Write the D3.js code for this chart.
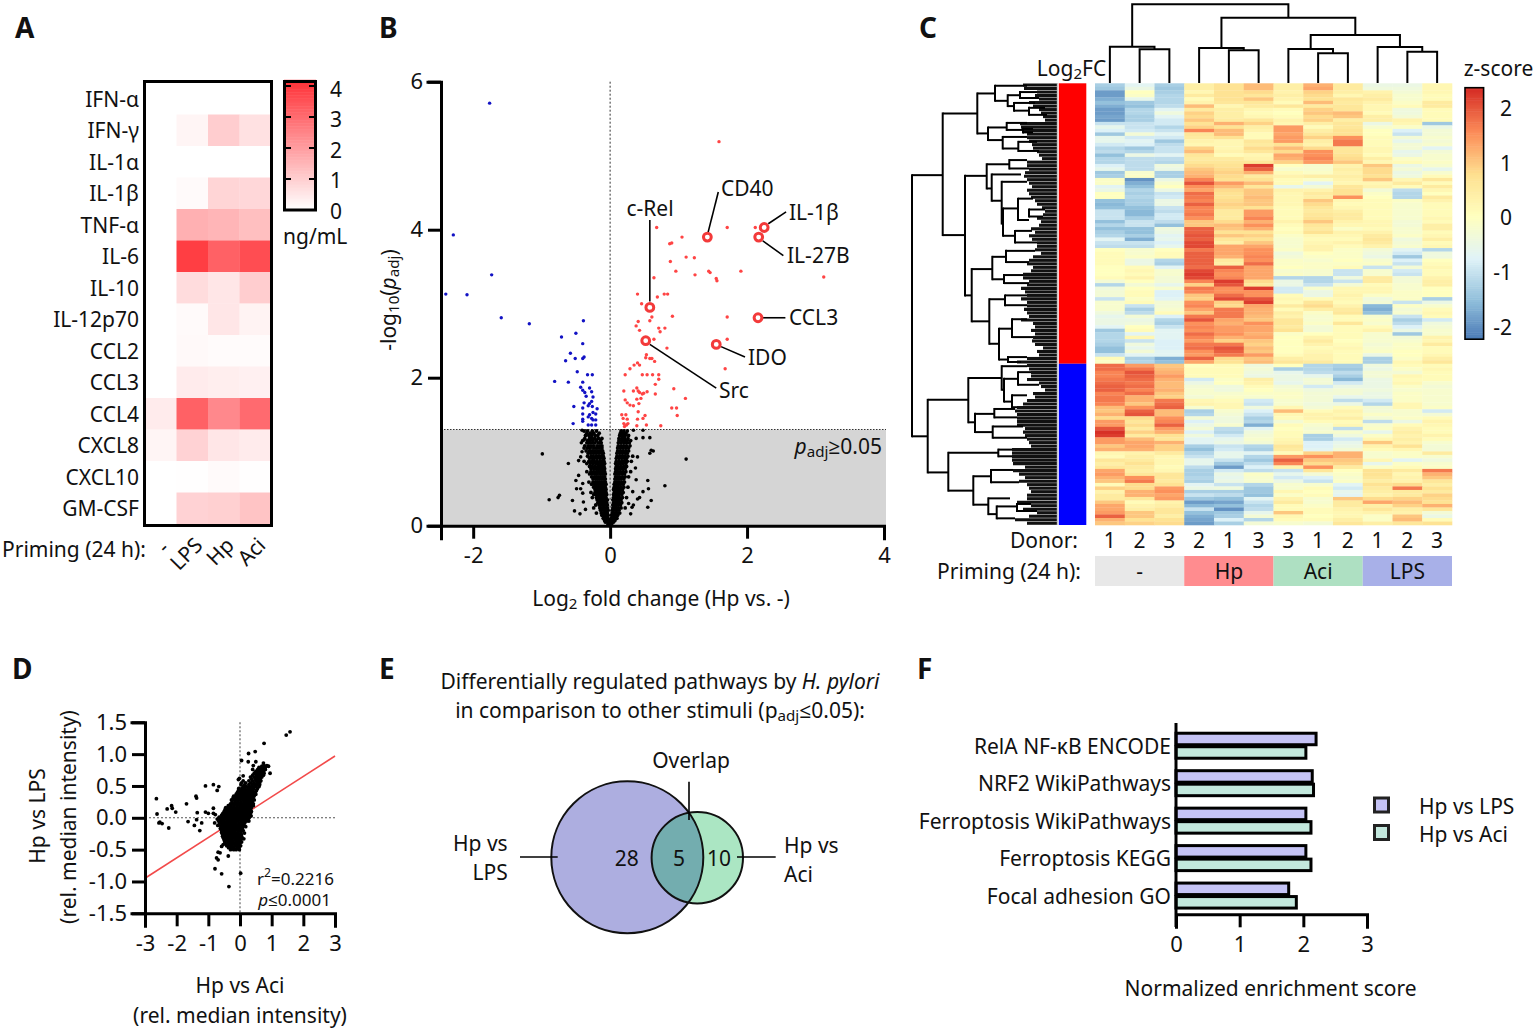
<!DOCTYPE html>
<html><head><meta charset="utf-8">
<script src="https://cdn.jsdelivr.net/npm/d3@7"></script>
<style>
html,body{margin:0;padding:0;background:#fff}
svg{display:block}
text{font-family:"Noto Sans","Open Sans",sans-serif;fill:#111}
</style></head><body><svg id="c" width="1535" height="1032"></svg>
<script>
// ---------- Panel A
const cytokines=["IFN-α","IFN-γ","IL-1α","IL-1β","TNF-α","IL-6","IL-10","IL-12p70","CCL2","CCL3","CCL4","CXCL8","CXCL10","GM-CSF"];
const primingA=["-","LPS","Hp","Aci"];
const cytokineValues=[[0,0,0,0],[0,.2,1.0,.6],[0,0,0,0],[0,.1,.85,.8],[0,1.6,1.5,1.3],[0,3.9,3.2,3.6],[0,.7,.5,1.0],[0,.1,.5,.25],[0,.12,.08,.08],[0,.4,.35,.3],[.4,3.2,2.4,3.0],[.2,.9,.5,.4],[0,.02,.1,.02],[0,.9,.95,1.2]];
// ---------- Panel B
const volcanoBlue=[[-1.76,5.71],[-2.29,3.93],[-1.73,3.39],[-2.40,3.13],[-2.09,3.12],[-1.59,2.81],[-1.18,2.73],[-.39,2.77],[-.71,2.55],[-.50,2.60],[-.40,2.46],[-.58,2.33],[-.51,2.26],[-.65,2.23],[-.38,2.28],[-.40,2.26],[-.48,2.08],[-.33,2.04],[-.26,2.04],[-.81,1.95],[-.61,1.94],[-.40,1.94],[-.43,1.87],[-.30,1.86],[-.40,1.83],[-.27,1.81],[-.37,1.80],[-.25,1.74],[-.35,1.75],[-.38,1.66],[-.30,1.65],[-.27,1.68],[-.32,1.62],[-.53,1.61],[-.40,1.59],[-.26,1.61],[-.19,1.58],[-.40,1.51],[-.25,1.53],[-.30,1.50],[-.21,1.51],[-.27,1.45],[-.32,1.47],[-.40,1.44],[-.25,1.43],[-.54,1.38],[-.40,1.41],[-.32,1.36],[-.27,1.36],[-.21,1.36],[-.21,1.43]];
const volcanoRed=[[1.59,5.19],[.68,4.03],[1.71,4.03],[2.12,4.03],[1.05,3.90],[.90,3.82],[.87,3.81],[1.11,3.63],[1.23,3.62],[.88,3.57],[.96,3.44],[1.44,3.44],[1.46,3.42],[1.91,3.44],[1.24,3.39],[3.12,3.36],[.64,3.35],[1.55,3.34],[1.56,3.31],[.40,3.13],[.79,3.13],[.84,3.13],[.69,3.09],[.46,3.00],[.61,2.82],[.58,2.77],[.91,2.83],[1.71,2.82],[.41,2.76],[.38,2.70],[.43,2.64],[.71,2.67],[.73,2.62],[.80,2.67],[.64,2.52],[1.71,2.52],[.83,2.40],[.53,2.31],[.58,2.26],[.52,2.27],[.61,2.26],[.65,2.22],[.40,2.20],[.35,2.17],[.43,2.17],[.29,2.12],[1.68,2.12],[.22,2.04],[.47,2.04],[.54,2.04],[.62,2.04],[.71,2.04],[.71,1.98],[.66,1.91],[.39,1.86],[.93,1.85],[.20,1.82],[.34,1.82],[.41,1.82],[.43,1.80],[.47,1.78],[.54,1.81],[.49,1.79],[.66,1.78],[1.10,1.72],[.22,1.70],[.25,1.66],[.39,1.71],[.45,1.72],[.29,1.63],[.34,1.62],[.42,1.65],[.90,1.59],[.97,1.59],[.41,1.54],[.98,1.49],[.51,1.49],[.48,1.45],[.40,1.44],[.17,1.50],[.23,1.50],[.19,1.45],[.25,1.44],[.53,1.36],[.74,1.35],[.39,1.35],[.20,1.38],[.24,1.36],[.21,1.34],[.26,1.38]];
const volcanoOutliers=[[-.99,.97],[-.61,.84],[1.11,.90],[.80,.54],[-.89,.35],[-.76,.38],[-.74,.41],[-.55,.34],[-.52,.20],[-.44,.16],[.55,.61],[.56,.50],[.55,.25],[.60,.34],[.43,.38],[.40,.36],[.34,.28],[.32,.25],[.48,.46],[.58,1.19],[.48,1.19],[.38,1.18],[.60,1.02],[.58,.98],[.63,1.01],[.48,1.29],[.34,1.29],[-.41,1.29],[-.46,.68],[-.50,.61],[-.40,.57],[-.43,.50],[-.49,.50],[-.40,.44],[-.43,.93],[-.46,.88],[-.41,1.0],[-.38,1.16],[-.42,1.12],[-.39,.32],[-.36,.22],[.30,.16],[.27,.30],[.33,.46],[.38,.62],[.37,.78],[.40,.93]];
const volcanoCloudLeft=[[1.28,-.38,-.33,-.26,-.20],[1.22,-.36,-.31,-.27,-.22,-.18],[1.15,-.40,-.33,-.29,-.25,-.20,-.14],[1.08,-.37,-.32,-.28,-.24,-.19,-.15,-.12],[1.01,-.35,-.30,-.26,-.22,-.18,-.14,-.11],[.94,-.33,-.28,-.25,-.21,-.17,-.13,-.10],[.87,-.38,-.31,-.27,-.23,-.19,-.15,-.12,-.09],[.80,-.30,-.26,-.22,-.18,-.15,-.12,-.09],[.73,-.34,-.28,-.24,-.20,-.17,-.14,-.11,-.08],[.66,-.27,-.23,-.20,-.17,-.14,-.11,-.08],[.59,-.31,-.25,-.22,-.19,-.16,-.13,-.10,-.07],[.52,-.24,-.21,-.18,-.15,-.12,-.09,-.07],[.45,-.28,-.22,-.19,-.16,-.13,-.10,-.08,-.06],[.38,-.26,-.20,-.17,-.14,-.12,-.09,-.06],[.31,-.18,-.15,-.12,-.10,-.07,-.05],[.24,-.24,-.15,-.13,-.10,-.08,-.05,-.04],[.17,-.20,-.13,-.10,-.08,-.06,-.04],[.10,-.10,-.07,-.05,-.03],[.05,-.07,-.04,-.02],[.02,-.03,-.01]];
const volcanoCloudLeftFill=[[1.25,-.34,-.29,-.24,-.16],[1.18,-.37,-.30,-.26,-.22,-.17,-.12],[1.12,-.34,-.30,-.26,-.22,-.17,-.13],[1.05,-.38,-.33,-.29,-.24,-.20,-.16,-.12],[.98,-.32,-.28,-.24,-.20,-.16,-.12,-.10],[.91,-.30,-.26,-.23,-.19,-.15,-.11,-.09],[.84,-.34,-.29,-.25,-.21,-.17,-.13,-.10,-.08],[.77,-.28,-.24,-.20,-.17,-.13,-.10,-.08],[.70,-.30,-.26,-.22,-.19,-.15,-.12,-.09,-.07],[.63,-.25,-.21,-.18,-.15,-.12,-.09,-.07],[.56,-.27,-.23,-.20,-.17,-.14,-.11,-.08,-.06],[.49,-.22,-.19,-.17,-.14,-.11,-.08,-.06],[.42,-.24,-.20,-.18,-.15,-.12,-.09,-.07,-.05],[.35,-.19,-.16,-.13,-.11,-.08,-.06,-.04],[.28,-.21,-.16,-.14,-.11,-.09,-.06,-.04],[.21,-.14,-.12,-.09,-.07,-.05,-.03],[.14,-.12,-.09,-.07,-.05,-.03],[.07,-.08,-.06,-.04,-.02]];
const volcanoCloudRight=[[1.28,.16,.20,.25],[1.22,.14,.18,.22,.27],[1.15,.13,.17,.21,.25,.30],[1.08,.12,.16,.20,.24,.29],[1.01,.11,.15,.19,.23,.27],[.94,.10,.14,.18,.22,.26,.33],[.87,.09,.13,.17,.21,.25,.31],[.80,.09,.12,.16,.20,.24],[.73,.08,.11,.15,.19,.23,.30],[.66,.08,.11,.14,.18,.22,.27],[.59,.07,.10,.13,.17,.21],[.52,.06,.09,.12,.16,.20,.26],[.45,.06,.09,.12,.15,.19],[.38,.05,.08,.11,.14,.18,.24],[.31,.05,.08,.10,.13,.17],[.24,.04,.07,.09,.12,.16,.22],[.17,.03,.05,.08,.11,.14],[.10,.02,.04,.07,.10],[.05,.01,.03,.05],[.02,.01,.02]];
const volcanoCloudRightFill=[[1.25,.15,.19,.23],[1.18,.13,.17,.21,.26],[1.12,.12,.16,.20,.24,.28],[1.05,.11,.15,.19,.23,.27],[.98,.10,.14,.18,.22,.25],[.91,.09,.13,.17,.21,.24],[.84,.08,.12,.15,.19,.23],[.77,.08,.11,.14,.18,.22],[.70,.07,.10,.13,.17,.21],[.63,.07,.10,.13,.16,.20],[.56,.06,.09,.12,.15,.19],[.49,.05,.08,.11,.14,.18],[.42,.05,.08,.10,.13,.17],[.35,.04,.07,.10,.13,.16],[.28,.04,.06,.09,.12,.15],[.21,.03,.05,.08,.10,.13],[.14,.02,.04,.06,.09,.11],[.07,.01,.03,.05,.07]];
const volcanoGenes=[["CD40",1.42,3.90],["IL-1β",2.25,4.03],["IL-27B",2.17,3.90],["CCL3",2.16,2.81],["IDO",1.55,2.45],["c-Rel",.58,2.95],["Src",.52,2.50]];
const volcanoLeaders=[[1.43,3.96,1.58,4.51],[2.31,4.08,2.57,4.24],[2.23,3.85,2.53,3.65],[2.23,2.81,2.56,2.81],[1.62,2.42,1.97,2.28],[.58,3.03,.58,4.13],[.58,2.45,1.55,1.86]];
// ---------- Panel C
const donorLabels=["1","2","3","2","1","3","3","1","2","1","2","3"];
const groupLabels=["-","Hp","Aci","LPS"];
const zScores=[
[-1.3,-.7,-1.3,.4,.7,1.1,.4,1.2,.5,-.5,-.5,.2],[-1.4,-.5,-1.4,.4,.7,1.1,.4,1.3,.5,-.4,-.4,.2],[-1.9,0,-1.3,.2,.7,.8,.3,.9,.4,.3,-.3,.2],[-1.9,-.1,-1.2,.5,.7,.6,.4,.8,.2,.4,-.2,.1],[-1.7,-.6,-1.2,.1,.7,1,.3,.7,.6,.5,-.2,.1],[-1.5,-1.4,-1.2,.3,.6,.6,.1,1.1,.5,.3,-.1,.5],[-1.7,-1.5,-1.1,1.1,.2,.5,.6,.5,.6,.2,.1,.5],[-1.9,-1.2,-.7,.5,.4,.2,.1,.9,.6,.2,-.4,.1],[-1.9,-1.2,-.4,.9,.4,.1,0,1,1.1,.1,-.4,.1],[-1.8,-1.3,-.7,.8,.4,.2,.1,.8,1,.4,-.3,.1],
[-1.9,-1.3,-.9,1,.5,.6,.3,.9,.4,.4,.3,.1],[-1,-1,-.9,.7,1.2,.9,.2,.4,.6,-.5,.2,-1.4],[-.6,-1,-1.2,.9,.7,.4,1.4,.1,.6,-.2,-.1,-.5],[-.8,-.9,-1,1.6,1.1,.3,1.4,.4,.7,0,-.8,-.3],[-1.4,-.3,-.7,.6,1.1,.1,1.3,.6,.7,0,-1,-.3],[-.6,-.9,-.9,.5,.7,.1,1.4,.9,1.5,.1,-.3,-.2],[-.6,-.7,-1.4,.3,.2,.6,1.4,.4,1.7,.1,-.6,-.3],[-.9,-.8,-1.1,.2,.2,.5,.7,.3,1.7,.1,-.3,-.2],[-1.2,-1.4,-1,.9,.2,.8,1.1,.8,.6,.2,-.3,-.7],[-1.1,-1.2,-1,1.1,.3,.6,.8,1.5,.6,.2,-.6,-.3],
[-1.5,-.5,-.7,.6,.1,.2,1.3,1.5,.7,.1,-.5,-.2],[-1.2,-1.1,-1.1,.5,.5,.3,1.2,1.6,.8,.4,-.1,-.2],[-1.2,-1.1,-1.2,.6,.6,.6,.9,1.4,1,.2,.1,-.1],[-.8,-1.1,-.4,.8,.7,2.2,0,-.2,.3,1,-.5,-.2],[-.6,-1.1,-.5,1,.8,1.9,-.2,-.2,.4,.8,-.3,-.6],[-1.4,-.2,-1.3,1.1,.9,1.2,.1,-.1,.3,.8,-.5,-.2],[-1.3,-.1,-1.3,1.2,.8,.5,.3,.4,.4,.7,-.4,.1],[-.1,-2,-.5,1.6,.7,.7,.1,-.1,.3,1,.2,.6],[-.1,-1.7,-.2,2,1.4,1.1,.1,-.7,.2,.2,.5,.1],[-.7,-1.5,0,1.5,1.1,.6,-.6,-.3,.6,.3,.1,.5],
[-.5,-1.2,-.5,1.3,.8,1,.3,.3,.7,-.3,-1.1,.2],[0,-1.3,-1,1.8,.7,1,.2,.5,.7,-.1,-1.2,0],[0,-1.2,-.9,1.7,.7,1.1,.2,.4,1.5,0,-1.2,.5],[-1.5,-1.3,-.5,1.6,.8,1,.2,1,.2,.1,-.1,.3],[-1.6,-1.3,-.5,1.9,.9,1,.2,.8,.1,.1,-.2,.1],[-1.5,-1.5,-1,1.6,.8,.7,.1,.6,.2,.1,-.2,.1],[-1,-1.6,-1.1,1.6,.5,1.4,.1,.5,.4,.1,-.2,.1],[-1,-1.6,-.9,1.7,.5,1.4,.1,.6,.5,.1,-.2,.1],[-1,-1.3,-.9,1.5,.5,1.6,.1,.7,.5,.1,-.2,.2],[-1.5,-1,-1.1,1,.8,1.2,.3,1,.3,.2,-.3,.1],
[-1.2,-1,-1.5,1,1.1,1.5,.1,.6,.2,.2,-.3,.4],[-1.5,-1.5,-.4,1.9,1,1.2,0,.5,-.1,.1,-.2,.4],[-1.3,-1.5,-.5,1.9,.7,.7,.1,.7,.3,.3,-.2,.1],[-1.2,-1.3,-.7,2,1,.9,-.1,.2,.2,.5,-.1,.2],[-.7,-1.7,-.6,1.9,.6,.7,-.2,.1,.1,.6,-.4,.4],[-1,-1,-.8,2.1,.4,1,-.2,.2,.3,.5,-.3,.1],[-1.1,-1.1,-.6,2.1,1.3,1.3,-.2,.3,.1,.3,-.2,.2],[0,-.2,0,1.7,1.3,1.5,-.1,.3,-.1,-.3,-.7,-1.2],[.1,-.2,.1,1.9,1.3,1.5,-.4,0,-.1,-.4,-.9,-.4],[.1,-.1,.1,1.9,1.2,1.6,-.3,-.1,-.1,-.5,-1.4,-.4],
[.1,-.5,-1.2,1.9,.5,1.5,-.1,-.2,0,-.2,-.8,0],[.1,-.5,-1.3,1.9,.4,1.8,-.1,-.1,-.1,-.1,-1,.1],[0,.1,-.7,1.8,1.9,1.3,0,-.1,.1,-1,-.3,.2],[0,.2,-.2,2.1,1.6,1.3,-.2,-.2,-1,-.2,-.9,.1],[0,.1,-.2,2.2,1.5,1.3,-.1,-.2,-1,-.2,-1,.1],[.1,.3,-.3,2.1,1.6,1.3,-1.2,-1.2,-.4,.5,-.3,.3],[-.3,0,-.3,1.6,2.2,.8,-.5,-1.2,-1,.5,-.3,.4],[-1.2,-.3,-.6,.9,2,.6,-.5,-1,-.3,.1,-.2,.4],[-.4,0,-.2,1.7,1.5,2.2,-.9,-.2,.2,.2,-.2,0],[-.3,.1,-.8,1.6,1.5,1.5,-.9,-.5,.2,.2,-.1,0],
[-.3,.1,-.8,1,1.8,1.5,.1,-.5,.3,-.1,-.1,0],[-1,-.1,-.7,.9,2.1,2,.2,.1,.2,-.4,-.1,-1.3],[-.2,.1,-.3,1.5,.9,2.2,.1,.6,.1,-.3,-1,-.5],[-.2,-1,-.3,1.6,.8,1.3,.5,.8,.3,-1.6,-.1,-.2],[-.2,-1.3,-.2,1.3,1.7,1.2,.1,.4,.5,-1.7,-.3,.1],[-.4,-1.1,.1,1,1.7,1.2,.4,-.1,.6,-1.5,-.2,.2],[-.6,-.3,-.8,1.7,1.7,1.1,.3,-.2,.1,-.2,-1,.1],[-.5,-.5,-1.2,2,1.3,1,.6,-.2,.1,-.1,-1.3,-.9],[-.5,-.4,-1.3,1.5,1.2,1.5,.6,-.1,.6,-.2,-1.1,-.4],[-.7,0,-1,1.6,1.4,1.3,.5,-.3,.1,.1,-.8,-.3],
[-1.4,.1,-.7,1.5,1.4,1.3,.7,-.3,.1,.3,-.5,-.2],[-1.2,-.7,-.7,1.8,1.5,1.2,-.1,0,.1,-.2,-1.4,-.2],[-1.2,.2,-.7,1.6,1.2,1.3,0,.3,.1,-.2,-.3,.3],[-1.2,-1,-.8,1.4,.9,1,0,.5,0,-.2,-.2,.2],[-1.3,-.4,-.8,1.7,1.7,.9,0,.3,.1,-.3,-.1,.5],[-1.5,-.6,-.8,1.8,2,1.1,0,.1,.2,-.2,-.1,.1],[-1.5,-.3,-.7,1.5,1.9,1,0,.2,.1,-.1,0,.1],[-1,-.7,-.7,1.4,1.7,1.4,.1,.3,.1,-.5,0,.2],[.1,-1.3,-1.7,1.9,.8,1,.4,.3,.1,-1.3,-.1,.4],[-.1,-1.2,-1.5,1.3,.7,1.1,.6,.5,.1,-1.3,.2,.6],
[1.8,1.4,1,0,.1,-.4,0,-1.2,-1.3,-.4,.1,.1],[1.8,1.7,1.1,.1,.1,-.3,-1.3,-1.2,-1.4,-.5,-.1,.2],[1.6,2,1.2,.1,.1,-.4,-.6,-1.1,-1.1,-.3,-.3,.1],[1.6,1.9,1.4,.1,.1,-.5,-.5,-.6,-1.3,-.3,.2,.1],[1.7,1.8,1.2,-.9,-.1,.4,-.5,-.3,-1.6,-.5,.1,.1],[1.8,1.7,1.1,-.5,0,.3,-.6,-.3,-.9,-.5,.2,-.2],[1.9,1.8,1.1,-.3,-.4,.1,-.3,-.9,-.5,-.5,-.1,-.3],[1.9,1.6,1.2,-.2,-.4,0,-.2,-.4,-.3,-.4,-.2,-.2],[1.6,1.8,1,-.2,-.2,-.1,-.1,-.3,-.3,-.5,-.1,-.2],[1.7,1.2,.9,-.3,-.1,-.2,-.1,-.3,-.6,-.5,-.1,-.2],
[1.7,1.2,1.7,.2,.1,-.9,-.2,-.3,-1.1,-.9,-.1,-.2],[1.6,1,1.8,.3,.2,-1,-.2,-.4,-.5,-1.2,.2,-.2],[1.1,1.5,1.9,-.2,.2,-.4,.2,-.3,.1,-.3,.2,-.1],[1,1.9,1.1,-1.3,-.2,-.8,1.1,.1,.3,-.3,-.2,-.9],[1.2,2,1.1,-1.2,-.3,-1,.2,.3,.2,-.1,-.2,-.3],[.8,.8,1.5,-.3,-.4,-1.3,.1,.3,.4,-.3,-.1,.1],[1.4,.6,1.6,-.8,-.4,-1.2,-.3,.1,.1,-1.1,-.5,.3],[1.4,.8,1.9,-.5,-.2,-1.7,.1,-.2,.2,-.2,.1,.2],[2,.5,1.4,-.3,-1.1,-.7,0,-.3,-1.1,-.1,.3,.1],[2.3,.9,1.2,-.8,-1.2,-.4,.1,-.2,-.2,-.6,.4,.1],
[2.2,.5,.7,-.4,-.9,-.3,.1,-1.3,-.4,-.1,.3,.3],[1.4,1.1,.6,-.7,-.6,-.2,.2,-1.3,-.9,.2,.4,.1],[1.4,1.3,1.2,-.7,-.5,-.3,.3,-.8,-.6,1,.3,-.2],[1,1.3,.9,-1.3,-1,-1.2,.6,-.8,-.5,.3,.7,-.3],[1.2,1.2,.9,-1.5,-.9,-1.3,.5,-.7,-.3,.1,.2,-.3],[.2,.3,.5,-1.2,-.6,-.7,.1,.9,1.2,-.2,-.1,.5],[.1,.4,.2,-1,-.6,-1.2,1.4,1.5,1.2,-.2,-.1,-.2],[.6,.5,.2,-.6,-1,-1.4,1.9,1,1,.2,-.7,-.4],[.4,.7,.2,-.6,-1.4,-1.1,1.6,.8,.9,-.6,-.1,-.2],[.6,.5,.1,-1.1,-1.9,-.8,.3,1.5,.5,-.1,.1,-.1],
[1.3,.4,.2,-1.3,-.9,-1.1,-1,.6,0,.7,.5,1.7],[1.4,.6,.6,-1.3,-.5,-.1,-.6,-.3,-.1,.7,.2,1.2],[1.2,1.5,.6,-1.2,-.6,-.2,-.9,-.8,-.2,.6,.3,1],[1,1.7,.5,-1.3,-.5,-.2,-.5,-1,-.1,.4,.3,.6],[.1,.8,.7,-.7,-1,-1.2,-.2,-.2,-.7,.7,.8,.4],[.9,.8,1.4,-.5,-.4,-1.4,-.2,.1,-.9,.5,1.7,.7],[.3,1.2,1.5,-1.3,-1.3,-1.4,.2,0,-.6,.4,.5,.5],[.5,1.2,1.3,-1,-1.1,-1.5,-.1,.1,-.7,.3,.5,.9],[.5,.6,1.4,-1.4,-1.5,-.7,.3,-.2,1,.8,.9,.8],[1,.1,.3,-1.9,-1.8,-1,.5,-.2,.5,1.3,1.1,.7],
[1.3,.3,.4,-1.6,-1.5,-1.2,.1,-.1,.5,.4,.9,1.2],[1.3,.4,.6,-1,-2,-1.1,.1,.1,.3,.6,.4,.6],[1.4,1,.6,-1.5,-1.4,-.6,1,.1,.2,.3,.3,-.3],[1.9,1,.4,-1.7,-1.3,-.3,.2,0,.2,-.1,1,-.5],[1.2,.7,.7,-1.8,-.8,-1.2,.1,.1,.4,-.1,1.1,.1],[1,.9,.8,-1.9,-1.3,-.3,-.2,-.3,.6,.4,.6,.7]];
const upRowCount=80;
const colDendro=[78.7,[36.3,0,[33.7,1,2]],[65.3,[35,3,[32.7,4,5]],[48,[34,6,[29.7,7,8]],[36,9,[31.3,10,11]]]]];
const rowLeafDepth=[34,33,20,22,18,28,24,18,16,14,12,37,36,35,30,30,28,25,24,20,18,15,30,30,28,32,33,30,28,25,30,28,26,22,20,15,12,14,20,16,18,26,22,28,25,20,20,22,16,24,28,30,24,26,34,34,28,30,36,32,30,36,30,30,33,30,28,36,24,22,26,22,24,25,22,14,20,18,30,40,30,28,26,26,30,18,16,12,24,22,30,34,40,42,40,40,40,40,32,34,32,30,28,26,45,45,45,45,44,32,44,38,32,38,30,28,26,30,30,40,26,34,20,28,42,30];
// node: [height, topRow, bottomRow, topChild, bottomChild]; a number child is the height at which that branch stops
const rowDendro=[145,26.2,100.7,
 [114.3,8.6,43.3,
  [79.7,2.9,14.3,
   [62,.7,5,30,[49.3,3.4,6.5,[37,2.5,4.2,20,18],[43,5.6,7.8,22,[28,7,9,12,10]]]],
   [69,12.6,16.2,[50.3,11.3,13.3,30,[34,13,14,24,24]],[54.3,15.3,18.6,30,[38.7,16.7,19.3,20,18]]]],
  [92,26.4,60.5,
   [70.3,23.1,30,[47.7,21.9,24.3,30,28],[65.3,26,33.5,36,[55.3,28.1,40,30,[54,35.7,43.5,[39,32.9,39,24,[28,36,38,12,14]],[42,42.1,45.4,25,20]]]]],
   [85.3,53,67.9,
    [64.7,49.5,55.9,[51,47.8,51,22,28],[53,54.7,57,34,28]],
    [67.7,61.6,74.3,[52,60.5,63.3,30,30],[58,70,78.8,[45,67.3,72.4,30,24],[49,78.1,79.5,30,36]]]]]],
 [129.3,90.3,111,
  [88.7,84.1,96.7,
   [55.3,80.7,87.4,30,[53,84.3,90.8,[39,82.4,86,26,18],[45,89,92.4,30,40]]],
   [82,94.3,99.5,[62.7,92.9,95.3,42,40],[64.3,97.9,101.1,34,30]]],
  [108.7,105.4,116.2,
   [58.7,104.5,106.4,45,45],
   [83.7,112.1,120.2,
    [66,110.3,113.8,44,38],
    [68.7,118.4,122.9,47,[60.3,120.7,124.1,[40,120,122,26,20],42]]]]]];
// ---------- Panel D
const scatterOutliers=[[1.58,1.35],[1.46,1.30],[.76,1.17],[.48,1.04],[.27,1.01],[.50,.88],[.26,.88],[.05,.90],[.74,.86],[.79,.81],[.90,.81],[.69,.81],[-2.64,.30],[-2.62,.06],[-2.53,-.07],[-2.46,-.09],[-2.56,-.08],[-2.25,-.16],[-2.30,.14],[-2.16,.19],[-2.14,.15],[-2.03,.09],[-1.69,.22],[-1.64,-.06],[-1.44,-.12],[-1.39,.34],[-1.37,.31],[-1.35,.08],[-1.37,-.03],[-1.21,-.08],[-1.27,-.20],[-1.09,.50],[-.84,.52],[-.67,.49],[-.72,.43],[-1.09,.09],[-1,.07],[-.84,.15],[-.84,.07],[-.79,-.80],[-.58,-.88],[-.35,-1.08],[.02,-.87],[-.69,-.66],[-.74,-.63],[-.63,-.55],[-.69,-.54],[-.37,-.60],[-.58,-.45],[-.53,-.42],[-.78,.05],[-.72,-.02],[-.80,-.08],[-.70,-.12],[-.02,.62],[-.05,.60],[.1,.66],[.05,.55],[.35,.03],[.28,-.05],[.40,.20],[.12,-.33],[.14,-.24],[.95,.70]];
const scatterCore=[[-.5,-.30,-.20,-.12,-.02],[-.44,-.42,-.33,-.25,-.16,-.08,.02],[-.38,-.48,-.38,-.30,-.22,-.13,-.05,.05],[-.32,-.52,-.44,-.35,-.27,-.18,-.10,-.02,.07],[-.26,-.55,-.47,-.39,-.30,-.22,-.13,-.05,.04],[-.20,-.58,-.50,-.41,-.33,-.24,-.16,-.07,.02,.10],[-.14,-.60,-.52,-.44,-.35,-.27,-.18,-.10,-.01,.08,.18],[-.08,-.64,-.55,-.46,-.38,-.29,-.21,-.12,-.03,.06,.15],[-.02,-.62,-.53,-.44,-.36,-.27,-.18,-.10,-.01,.08,.17,.26],[.04,-.58,-.49,-.41,-.32,-.24,-.15,-.06,.03,.12,.21,.30],[.10,-.50,-.42,-.33,-.25,-.16,-.07,.02,.11,.20,.29,.36],[.16,-.45,-.36,-.27,-.18,-.09,0,.09,.18,.27,.36],[.22,-.30,-.21,-.12,-.03,.06,.15,.24,.33,.42],[.28,-.27,-.18,-.09,0,.09,.18,.27,.36,.45],[.34,-.20,-.10,-.01,.08,.17,.26,.35,.44],[.40,-.08,.02,.11,.20,.29,.38,.48],[.46,-.04,.06,.15,.25,.34,.43,.55],[.52,.03,.15,.28,.38,.47,.56,.62],[.58,.10,.28,.40,.50,.58,.66],[.64,.33,.44,.53,.60,.69],[.70,.45,.54,.62,.70,.76],[.76,.40,.56,.64,.72,.80],[.82,.42,.75,.85]];
const scatterCoreFill=[[-.47,-.36,-.28,-.20,-.10,-.03],[-.41,-.44,-.35,-.27,-.18,-.10,-.01],[-.35,-.50,-.42,-.33,-.25,-.16,-.08,.02],[-.29,-.55,-.47,-.38,-.29,-.21,-.12,-.04,.05],[-.23,-.58,-.49,-.40,-.32,-.23,-.15,-.06,.03],[-.17,-.62,-.54,-.45,-.37,-.28,-.20,-.11,-.02,.07],[-.11,-.66,-.57,-.48,-.40,-.31,-.23,-.14,-.05,.04,.12],[-.05,-.68,-.59,-.50,-.41,-.33,-.24,-.15,-.06,.03,.12,.21],[.01,-.66,-.57,-.48,-.39,-.31,-.22,-.13,-.04,.05,.14,.23,.30],[.07,-.54,-.45,-.37,-.28,-.20,-.11,-.02,.07,.16,.25,.33],[.13,-.47,-.38,-.29,-.21,-.12,-.03,.06,.15,.24,.33],[.19,-.37,-.28,-.19,-.10,-.01,.08,.17,.26,.35,.42],[.25,-.25,-.15,-.06,.03,.12,.21,.30,.39],[.31,-.22,-.13,-.04,.05,.14,.23,.32,.41],[.37,-.12,-.03,.06,.15,.24,.33,.42,.50],[.43,-.05,.05,.14,.23,.32,.41,.52],[.49,.10,.20,.30,.40,.50,.60],[.55,.18,.34,.44,.54,.62],[.61,.36,.48,.56,.64],[.67,.40,.52,.60,.68,.74],[.73,.50,.58,.66,.74],[.79,.60,.70,.80]];
const regressionLine=[[-3,-.95],[3,.97]];
// ---------- Panel E
const vennCounts=["28","5","10"];
// ---------- Panel F
const pathways=["RelA NF-κB ENCODE","NRF2 WikiPathways","Ferroptosis WikiPathways","Ferroptosis KEGG","Focal adhesion GO"];
const nesLPS=[2.2,2.14,2.04,2.04,1.77];
const nesAci=[2.04,2.16,2.12,2.12,1.89];

const svg=d3.select("#c");
const FS=21, TICK=22;
function label(x,y,s,o={}){
  const t=svg.append("text").attr("x",x).attr("y",y).attr("dominant-baseline","central")
    .attr("font-size",o.size||FS).attr("text-anchor",o.anchor||"start");
  if(o.weight)t.attr("font-weight",o.weight);
  if(o.rotate!==undefined)t.attr("transform",`rotate(${o.rotate} ${x} ${y})`);
  (Array.isArray(s)?s:[[s]]).forEach(p=>{
    const sp=t.append("tspan").text(p[0]);
    if(p[1]==="sub")sp.attr("dy","0.3em").attr("font-size",(o.size||FS)*.72);
    if(p[1]==="sup")sp.attr("dy","-0.45em").attr("font-size",(o.size||FS)*.72);
    if(p[1]==="i")sp.attr("font-style","italic");
    if(p[1]==="back")sp.attr("dy",(o.back||"-0.2em"));
  });
  return t;
}
function styleAxis(g,sw,fs){
  g.selectAll("path.domain").attr("stroke","#000").attr("stroke-width",sw).attr("stroke-linecap","square");
  g.selectAll(".tick line").attr("stroke","#000").attr("stroke-width",sw);
  g.selectAll(".tick text").attr("font-size",fs).attr("font-family",'"Noto Sans"').attr("fill","#111");
}
const hy=v=>String(v).replace("\u2212","-");
[["A",15,27],["B",379,27],["C",919,27],["D",12,668],["E",379,668],["F",917,668]].forEach(d=>label(d[1],d[2],d[0],{size:28,weight:700}));

// ===== A
{
  const x=d3.scaleBand().domain(d3.range(4)).range([145,271]);
  const y=d3.scaleBand().domain(d3.range(14)).range([83,524]);
  const col=d3.scaleLinear().domain([0,4.2]).range(["#ffffff","#ff2f35"]);
  const g=svg.append("g");
  cytokineValues.forEach((r,i)=>r.forEach((v,j)=>g.append("rect").attr("x",x(j)).attr("y",y(i)).attr("width",x.bandwidth()+.3).attr("height",y.bandwidth()+.3).attr("fill",col(v))));
  svg.append("rect").attr("x",144.5).attr("y",81.5).attr("width",127).attr("height",444).attr("fill","none").attr("stroke","#000").attr("stroke-width",3);
  cytokines.forEach((c,i)=>label(139,y(i)+y.bandwidth()/2,c,{anchor:"end"}));
  label(2,549,"Priming (24 h):");
  label(165,544,primingA[0],{anchor:"end",rotate:-45});
  [1,2,3].forEach(j=>label(x(j)+x.bandwidth()/2+6,541,primingA[j],{anchor:"end",rotate:-45}));
  const cy=d3.scaleLinear().domain([0,4]).range([210,86]);
  d3.range(0,4.2,.05).forEach(v=>svg.append("rect").attr("x",284).attr("width",32).attr("y",cy(v+.05)).attr("height",cy(v)-cy(v+.05)+.5).attr("fill",col(v)));
  svg.append("rect").attr("x",284.5).attr("y",81.5).attr("width",31).attr("height",128.5).attr("fill","none").attr("stroke","#000").attr("stroke-width",3);
  [1,2,3,4].forEach(v=>{[[285,291],[309,315]].forEach(s=>svg.append("line").attr("x1",s[0]).attr("x2",s[1]).attr("y1",cy(v)).attr("y2",cy(v)).attr("stroke","#000").attr("stroke-width",2));});
  [0,1,2,3,4].forEach((v,i)=>label(330,[211,180,150,119,89][i],String(v)));
  label(283,236,"ng/mL");
}

// ===== B
{
  const x=d3.scaleLinear().domain([-2.47,4]).range([441,884]);
  const y=d3.scaleLinear().domain([0,6]).range([525.7,81.7]);
  svg.append("rect").attr("x",x(-2.47)).attr("y",y(1.3)).attr("width",x(4)-x(-2.47)+2).attr("height",y(0)-y(1.3)).attr("fill","#d5d5d5");
  svg.append("line").attr("x1",x(-2.47)).attr("x2",x(4)+2).attr("y1",y(1.3)).attr("y2",y(1.3)).attr("stroke","#333").attr("stroke-width",1.2).attr("stroke-dasharray","1.5 1.5");
  svg.append("line").attr("x1",x(0)).attr("x2",x(0)).attr("y1",y(6)).attr("y2",y(0)).attr("stroke","#333").attr("stroke-width",1).attr("stroke-dasharray","2 2");
  const expand=a=>a.flatMap(r=>r.slice(1).map(v=>[v,r[0]]));
  const dots=(pts,c,r)=>svg.append("g").selectAll("circle").data(pts).join("circle").attr("cx",d=>x(d[0])).attr("cy",d=>y(d[1])).attr("r",r).attr("fill",c);
  dots(volcanoOutliers,"#000",1.8);
  [volcanoCloudLeft,volcanoCloudLeftFill,volcanoCloudRight,volcanoCloudRightFill].forEach(a=>dots(expand(a),"#000",1.9));
  dots(volcanoBlue,"#1212c4",1.7);
  dots(volcanoRed,"#ff4444",1.7);
  volcanoLeaders.forEach(l=>svg.append("line").attr("x1",x(l[0])).attr("y1",y(l[1])).attr("x2",x(l[2])).attr("y2",y(l[3])).attr("stroke","#000").attr("stroke-width",1.6));
  svg.append("g").selectAll("circle").data(volcanoGenes).join("circle").attr("cx",d=>x(d[1])).attr("cy",d=>y(d[2])).attr("r",3.9).attr("fill","#fff").attr("stroke","#f33a3a").attr("stroke-width",3);
  const ya=svg.append("g").attr("transform","translate(441,0)").call(d3.axisLeft(y).tickValues([0,2,4,6]).tickSize(13).tickPadding(5).tickFormat(hy));
  styleAxis(ya,3,TICK);
  const xa=svg.append("g").attr("transform","translate(0,525.7)").call(d3.axisBottom(x).tickValues([-2,0,2,4]).tickSize(13).tickPadding(9).tickFormat(hy));
  styleAxis(xa,3,TICK);
  [["CD40",721,188],["IL-1β",789,212],["IL-27B",787,255],["CCL3",789,317],["IDO",748,357],["Src",719,390]].forEach(d=>label(d[1],d[2],d[0]));
  label(650,208,"c-Rel",{anchor:"middle"});
  label(882,446,[["p","i"],["adj","sub"],["≥0.05","back"]],{anchor:"end"});
  label(661,598,[["Log"],["2","sub"],[" fold change (Hp vs. -)","back"]],{anchor:"middle"});
  label(388,300,[["-log"],["10","sub"],["(","back"],["p","i"],["adj","sub"],[")","back"]],{anchor:"middle",rotate:-90});
}

// ===== C
{
  const x=d3.scaleBand().domain(d3.range(12)).range([1095,1452]);
  const y=d3.scaleBand().domain(d3.range(zScores.length)).range([83.3,525]);
  const col=d3.scaleLinear().domain([-2.3,-1.533,-.767,0,.767,1.533,2.3]).range(["#4575b4","#91bfdb","#e0f3f8","#ffffbf","#fee090","#fc8d59","#d73027"]).clamp(true);
  const g=svg.append("g");
  zScores.forEach((r,i)=>r.forEach((v,j)=>g.append("rect").attr("x",x(j)).attr("y",y(i)).attr("width",x.bandwidth()+.3).attr("height",y.bandwidth()+.3).attr("fill",col(v))));
  const yMid=y(upRowCount);
  svg.append("rect").attr("x",1058.8).attr("y",83.3).attr("width",27.5).attr("height",yMid-83.3).attr("fill","#ff0000");
  svg.append("rect").attr("x",1058.8).attr("y",yMid).attr("width",27.5).attr("height",525-yMid).attr("fill","#0000ff");
  // column dendrogram
  const hc=d3.scaleLinear().domain([0,80]).range([83,3]);
  const cx=i=>x(i)+x.bandwidth()/2;
  function colNode(n){
    if(typeof n==="number")return {x:cx(n),h:0};
    const a=colNode(n[1]),b=colNode(n[2]);
    svg.append("path").attr("d",`M${a.x},${hc(a.h)}V${hc(n[0])}H${b.x}V${hc(b.h)}`).attr("fill","none").attr("stroke","#000").attr("stroke-width",2);
    return {x:(a.x+b.x)/2,h:n[0]};
  }
  colNode(colDendro);
  // row dendrogram
  const hr=d3.scaleLinear().domain([0,145]).range([1057,912]);
  const ry=d3.scaleLinear().domain([0,zScores.length]).range([83.3,525]);
  rowLeafDepth.forEach((d,i)=>svg.append("line").attr("x1",hr(0)).attr("x2",hr(d)).attr("y1",ry(i+.5)).attr("y2",ry(i+.5)).attr("stroke","#111").attr("stroke-width",3.1));
  function rowNode(n){
    const h=n[0];
    const kids=[[n[3],n[1]],[n[4],n[2]]];
    svg.append("line").attr("x1",hr(h)).attr("x2",hr(h)).attr("y1",ry(n[1])).attr("y2",ry(n[2])).attr("stroke","#000").attr("stroke-width",2).attr("stroke-linecap","square");
    kids.forEach(([c,r])=>{
      const end=typeof c==="number"?c:c[0];
      svg.append("line").attr("x1",hr(h)).attr("x2",hr(end)).attr("y1",ry(r)).attr("y2",ry(r)).attr("stroke","#000").attr("stroke-width",2);
      if(typeof c!=="number")rowNode(c);
    });
  }
  rowNode(rowDendro);
  svg.append("line").attr("x1",1057.3).attr("x2",1057.3).attr("y1",83).attr("y2",525).attr("stroke","#bbb").attr("stroke-width",1);
  label(1071.5,68,[["Log"],["2","sub"],["FC","back"]],{anchor:"middle"});
  label(1498.5,68,"z-score",{anchor:"middle"});
  // colour bar
  const cb=d3.scaleLinear().domain([-2,2]).range([326.7,108]);
  d3.range(-2.22,2.38,.04).forEach(v=>svg.append("rect").attr("x",1465).attr("width",18.6).attr("y",cb(v+.04)).attr("height",cb(v)-cb(v+.04)+.5).attr("fill",col(v)));
  svg.append("rect").attr("x",1465).attr("y",87.7).attr("width",18.6).attr("height",251.5).attr("fill","none").attr("stroke","#000").attr("stroke-width",1.6);
  [-2,-1,0,1,2].forEach(v=>label(1512,cb(v),hy(v),{anchor:"end"}));
  label(1078,540,"Donor:",{anchor:"end"});
  label(1081,571,"Priming (24 h):",{anchor:"end"});
  donorLabels.forEach((d,i)=>label(cx(i),540,d,{anchor:"middle"}));
  const groupCols=["#e8e8e8","#ff8c8f","#aee0c2","#a8b0e8"];
  groupLabels.forEach((d,i)=>{
    svg.append("rect").attr("x",x(i*3)).attr("y",556).attr("width",x.bandwidth()*3).attr("height",30).attr("fill",groupCols[i]);
    label(x(i*3)+x.bandwidth()*1.5,571,d,{anchor:"middle"});
  });
}

// ===== D
{
  const x=d3.scaleLinear().domain([-3,3]).range([145,335]);
  const y=d3.scaleLinear().domain([-1.5,1.5]).range([913.3,722.3]);
  svg.append("line").attr("x1",x(-3)).attr("x2",x(3)).attr("y1",y(0)).attr("y2",y(0)).attr("stroke","#555").attr("stroke-width",1.1).attr("stroke-dasharray","2 2");
  svg.append("line").attr("x1",x(0)).attr("x2",x(0)).attr("y1",y(1.5)).attr("y2",y(-1.5)).attr("stroke","#555").attr("stroke-width",1.1).attr("stroke-dasharray","2 2");
  svg.append("path").datum(regressionLine).attr("d",d3.line().x(d=>x(d[0])).y(d=>y(d[1]))).attr("stroke","#f24a4a").attr("stroke-width",1.6).attr("fill","none");
  const core=scatterCore.concat(scatterCoreFill).flatMap(r=>r.slice(1).map(v=>[v,r[0]]));
  svg.append("g").selectAll("circle").data(scatterOutliers.concat(core)).join("circle").attr("cx",d=>x(d[0])).attr("cy",d=>y(d[1])).attr("r",1.9).attr("fill","#000");
  const ya=svg.append("g").attr("transform","translate(145,0)").call(d3.axisLeft(y).tickValues([-1.5,-1,-.5,0,.5,1,1.5]).tickSize(13).tickPadding(5).tickFormat(v=>hy(d3.format(".1f")(v))));
  styleAxis(ya,3,TICK);
  const xa=svg.append("g").attr("transform","translate(0,913.3)").call(d3.axisBottom(x).tickValues(d3.range(-3,4)).tickSize(13).tickPadding(9).tickFormat(hy));
  styleAxis(xa,3,TICK);
  label(240,985,"Hp vs Aci",{anchor:"middle"});
  label(240,1015,"(rel. median intensity)",{anchor:"middle"});
  label(37,816,"Hp vs LPS",{anchor:"middle",rotate:-90});
  label(68,817,"(rel. median intensity)",{anchor:"middle",rotate:-90});
  label(334,878,[["r"],["2","sup"],["=0.2216","back"]],{anchor:"end",size:17,back:"0.3em"});
  label(331,899,[["p","i"],["≤0.0001"]],{anchor:"end",size:17});
}

// ===== E
{
  label(660,681,[["Differentially regulated pathways by "],["H. pylori","i"]],{anchor:"middle"});
  label(660,710,[["in comparison to other stimuli (p"],["adj","sub"],["≤0.05):","back"]],{anchor:"middle"});
  const big={x:627.3,y:857.3,r:76},small={x:697.3,y:857.7,r:45.7};
  const circ=(d,fill,stroke)=>svg.append("circle").attr("cx",d.x).attr("cy",d.y).attr("r",d.r).attr("fill",fill).attr("stroke",stroke).attr("stroke-width",stroke==="none"?0:2);
  svg.append("defs").append("clipPath").attr("id","ov").append("circle").attr("cx",big.x).attr("cy",big.y).attr("r",big.r);
  circ(big,"#adaee0","none");
  circ(small,"#abe6c3","none");
  svg.append("circle").attr("cx",small.x).attr("cy",small.y).attr("r",small.r).attr("fill","#73adaf").attr("clip-path","url(#ov)");
  circ(big,"none","#111");
  circ(small,"none","#111");
  label(691,760,"Overlap",{anchor:"middle"});
  [[689,781.7,689,820],[520,857,557.7,857],[737,857,775.7,857]].forEach(l=>svg.append("line").attr("x1",l[0]).attr("y1",l[1]).attr("x2",l[2]).attr("y2",l[3]).attr("stroke","#000").attr("stroke-width",1.6));
  label(507.7,843,"Hp vs",{anchor:"end"});
  label(507.7,872,"LPS",{anchor:"end"});
  label(784,845,"Hp vs");
  label(784,874,"Aci");
  [626.7,679,719].forEach((cx,i)=>label(cx,858,vennCounts[i],{anchor:"middle"}));
}

// ===== F
{
  const x=d3.scaleLinear().domain([0,3]).range([1176,1367]);
  const y=d3.scaleBand().domain(pathways).range([727,914.3]);
  const gy=p=>y(p)+y.bandwidth()/2;
  pathways.forEach((p,i)=>{
    svg.append("rect").attr("x",x(0)).attr("y",gy(p)-12.5).attr("width",x(nesLPS[i])-x(0)).attr("height",11.5).attr("fill","#c5c3f5").attr("stroke","#000").attr("stroke-width",3);
    svg.append("rect").attr("x",x(0)).attr("y",gy(p)+1).attr("width",x(nesAci[i])-x(0)).attr("height",11.5).attr("fill","#c3e8dd").attr("stroke","#000").attr("stroke-width",3);
    label(1171,gy(p),p,{anchor:"end"});
  });
  const xa=svg.append("g").attr("transform","translate(0,914.3)").call(d3.axisBottom(x).tickValues([0,1,2,3]).tickSize(13).tickPadding(9).tickFormat(hy));
  styleAxis(xa,3,TICK);
  svg.append("line").attr("x1",x(0)).attr("x2",x(0)).attr("y1",723).attr("y2",927).attr("stroke","#000").attr("stroke-width",3);
  label(1270.6,988,"Normalized enrichment score",{anchor:"middle"});
  [["Hp vs LPS","#c5c3f5",805],["Hp vs Aci","#c3e8dd",832.5]].forEach(d=>{
    svg.append("rect").attr("x",1374.5).attr("y",d[2]-7).attr("width",14).attr("height",14).attr("fill",d[1]).attr("stroke","#222").attr("stroke-width",3);
    label(1419,d[2]+1,d[0]);
  });
}
</script></body></html>
